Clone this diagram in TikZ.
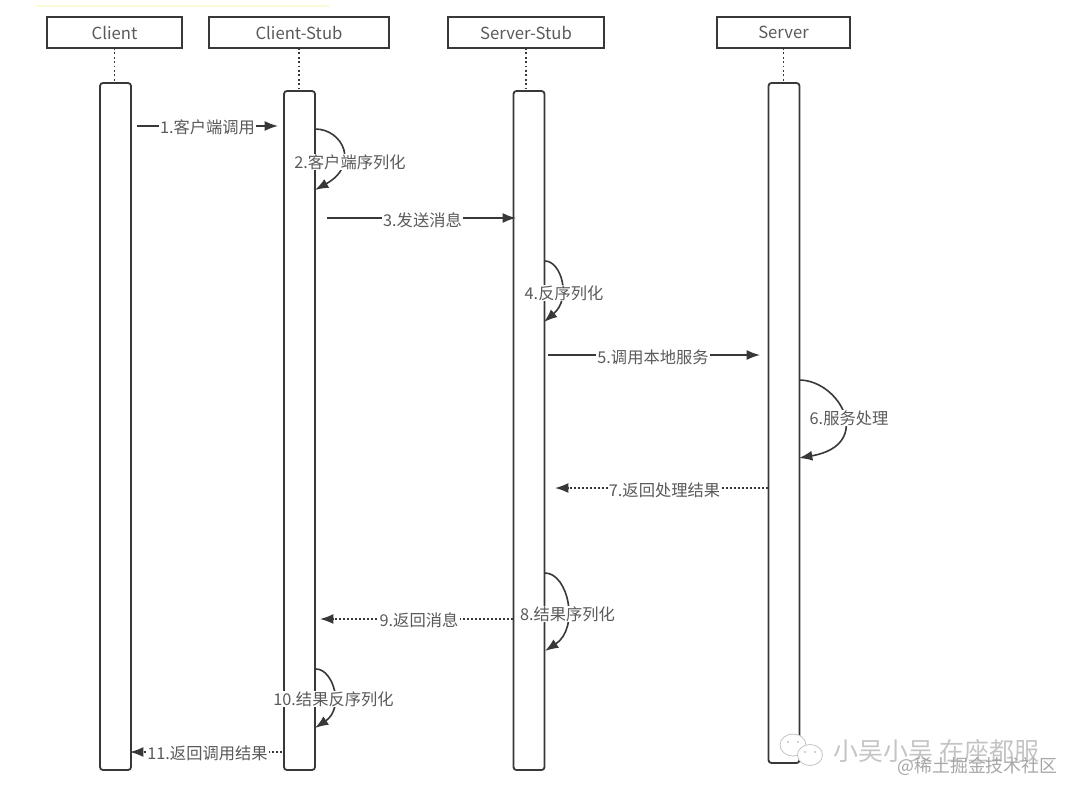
\documentclass[tikz,border=0pt]{standalone}
\usepackage{fontspec}
\setmainfont{Noto Sans CJK SC}
\usetikzlibrary{arrows.meta}
\definecolor{ink}{HTML}{383838}
\definecolor{txt}{HTML}{5A5A5A}
\definecolor{wm}{HTML}{C4C4C4}
\definecolor{pale}{HTML}{FBFBD8}
\def\px{0.75pt}
\tikzset{
  x=0.75pt,y=-0.75pt,
  head/.style={draw=ink,line width=1.35pt,fill=white,minimum height=31*\px,inner sep=0pt,outer sep=0pt,text=txt,text depth=0pt,font=\fontsize{12.5}{14}\selectfont},
  bar/.style={draw=ink,line width=1.35pt,fill=white,rounded corners=2.2pt,minimum width=31*\px,inner sep=0pt,outer sep=0pt},
  life/.style={draw=ink,line width=1.3pt,dotted,line cap=butt},
  call/.style={draw=ink,line width=1.2pt,-{Latex[length=10pt,width=7.5pt]}},
  back/.style={draw=ink,line width=1.2pt,dash pattern=on 1.3pt off 1.7pt,-{Latex[length=10pt,width=7.5pt]}},
  loopa/.style={draw=ink,line width=1.2pt,-{Latex[length=10pt,width=7.5pt]}},
  lab/.style={fill=white,text=txt,inner xsep=1pt,inner ysep=0.5pt,font=\fontsize{12.2}{14}\selectfont},
  wmark/.style={text=wm,inner sep=0pt}
}
\begin{document}
\begin{tikzpicture}
\useasboundingbox (0,0) rectangle (1080,799);
\draw[pale,line width=1.5pt] (36,6) -- (330,6);

% headers
\node[head,minimum width=135*\px] (hc) at (114.5,32.5) {Client};
\node[head,minimum width=180*\px] (hcs) at (299,32.5) {Client-Stub};
\node[head,minimum width=156*\px] (hss) at (526,32.5) {Server-Stub};
\node[head,minimum width=133*\px] (hs) at (783.5,32.5) {Server};

% activation bars
\node[bar,minimum height=687*\px] (bc) at (115.5,426.5) {};
\node[bar,minimum height=679*\px] (bcs) at (299.5,430.5) {};
\node[bar,minimum height=679*\px] (bss) at (529,430.5) {};
\node[bar,minimum height=680*\px] (bs) at (784,423) {};

\draw[life] (hc) -- (hc |- bc.north);
\draw[life] (hcs) -- (hcs |- bcs.north);
\draw[life] (hss) -- (hss |- bss.north);
\draw[life] (hs) -- (hs |- bs.north);

% free ends of the connectors
\coordinate (m1a) at (137,126);   \coordinate (m1b) at (278,126);
\coordinate (m2a) at (315,129);   \coordinate (m2b) at (315,190);
\coordinate (m3a) at (327,218);   \coordinate (m3b) at (516,218);
\coordinate (m4a) at (545,261);   \coordinate (m4b) at (544,322);
\coordinate (m5a) at (548,355);   \coordinate (m5b) at (760,355);
\coordinate (m6a) at (799,380);   \coordinate (m6b) at (799,458);
\coordinate (m7a) at (768,488);   \coordinate (m7b) at (555,488);
\coordinate (m8a) at (545,573);   \coordinate (m8b) at (545,651);
\coordinate (m9a) at (513,619);   \coordinate (m9b) at (320,619);
\coordinate (m10a) at (316,669);  \coordinate (m10b) at (315,728);
\coordinate (m11a) at (282,752);  \coordinate (m11b) at (130,752);

\draw[call] (m1a) -- (m1b);
\draw[call] (m3a) -- (m3b);
\draw[call] (m5a) -- (m5b);
\draw[back] (m7a) -- (m7b);
\draw[back] (m9a) -- (m9b);
\draw[back] (m11a) -- (m11b);

\draw[loopa] (m2a) .. controls (343,129) and (360,165) .. (m2b);
\draw[loopa] (m4a) .. controls (561,261) and (572,298) .. (m4b);
\draw[loopa] (m6a) .. controls (840,380) and (875,445) .. (m6b);
\draw[loopa] (m8a) .. controls (568,573) and (580,628) .. (m8b);
\draw[loopa] (m10a) .. controls (333,669) and (345,708) .. (m10b);

% labels
\node[lab] (t1) at (207.5,127) {1.客户端调用};
\node[lab] (t2) at (350,162) {2.客户端序列化};
\node[lab] (t3) at (422.5,220) {3.发送消息};
\node[lab] (t4) at (564,293) {4.反序列化};
\node[lab] (t5) at (653,357) {5.调用本地服务};
\node[lab] (t6) at (849,418) {6.服务处理};
\node[lab] (t7) at (664.5,490) {7.返回处理结果};
\node[lab] (t8) at (567.5,614) {8.结果序列化};
\node[lab] (t9) at (419,620) {9.返回消息};
\node[lab] (t10) at (333.5,699) {10.结果反序列化};
\node[lab] (t11) at (207.5,753) {11.返回调用结果};

% watermark
\draw[wm,line width=0.6pt,fill=white] (793,745) ellipse (13 and 11);
\draw[wm,line width=0.6pt,fill=white] (810,755) ellipse (12.5 and 10.5);
\fill[wm] (788,742) circle (1.2) (798,742) circle (1.2) (805,752) circle (1.2) (815,752) circle (1.2);
\node[wmark,font=\fontsize{18.7}{20}\selectfont] (w1) at (936.5,751) {小吴小吴 在座都服};
\node[wmark,font=\fontsize{13.4}{15}\selectfont,text=wm!85!black] (w2) at (977.5,766) {@稀土掘金技术社区};
\end{tikzpicture}
\end{document}
